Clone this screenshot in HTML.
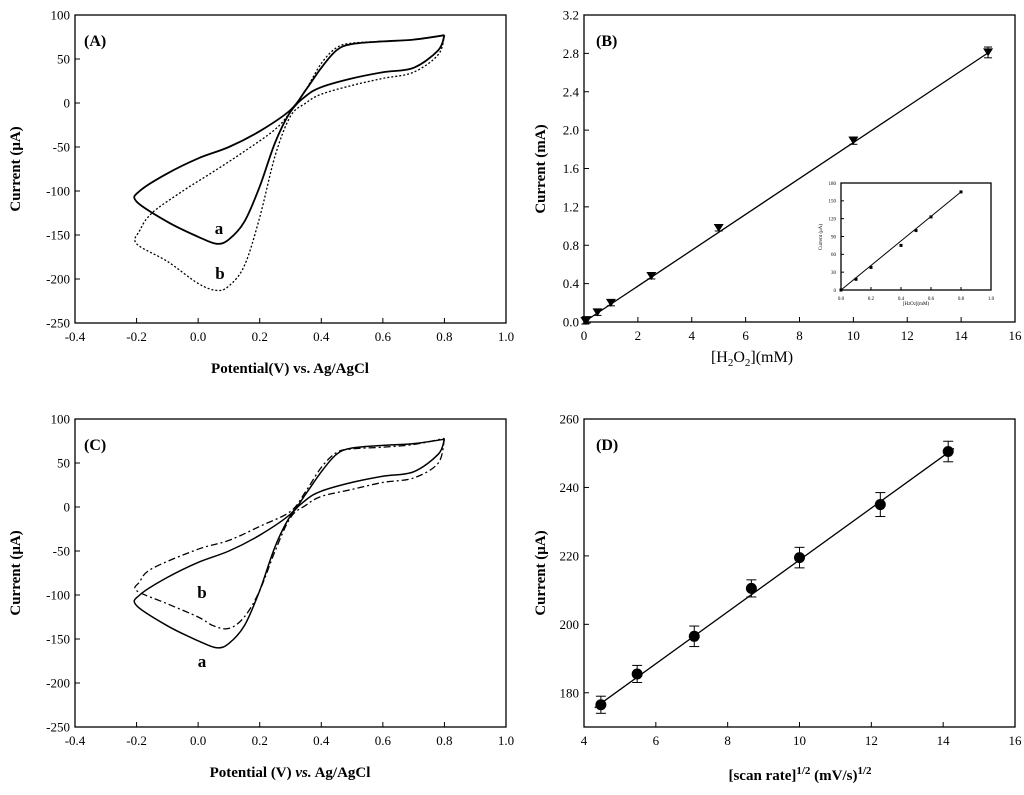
<!DOCTYPE html>
<html><head><meta charset="utf-8"><style>
body{margin:0;background:#fff}
svg{display:block;font-family:"Liberation Serif",serif}
</style></head><body>
<svg id="s" width="1024" height="795" xmlns="http://www.w3.org/2000/svg"></svg>
<script>
// ---- Data ----
const cvAa_E=[0.8,0.78,0.7,0.6,0.5,0.4,0.35,0.3,0.25,0.2,0.15,0.1,0.06,0.0,-0.1,-0.2,-0.19,-0.1,0.0,0.1,0.2,0.3,0.35,0.4,0.45,0.5,0.6,0.7,0.8];
const cvAa_I=[77,60,40,35,28,18,8,-10,-45,-95,-135,-155,-160,-152,-135,-112,-100,-80,-63,-50,-32,-8,15,40,60,67,70,72,77];
const cvAb_E=[0.8,0.78,0.7,0.6,0.5,0.4,0.35,0.3,0.25,0.2,0.15,0.1,0.06,0.0,-0.1,-0.2,-0.19,-0.15,-0.05,0.05,0.15,0.25,0.3,0.35,0.4,0.45,0.5,0.6,0.7,0.8];
const cvAb_I=[77,55,35,28,20,10,0,-15,-60,-130,-185,-208,-213,-205,-180,-160,-145,-125,-100,-78,-55,-30,-10,15,45,63,68,70,72,77];
const cvCb_E=[0.8,0.78,0.7,0.6,0.5,0.4,0.35,0.3,0.25,0.2,0.15,0.1,0.05,0.0,-0.1,-0.2,-0.19,-0.15,0.0,0.1,0.2,0.3,0.35,0.4,0.45,0.5,0.6,0.7,0.8];
const cvCb_I=[78,50,33,28,20,12,2,-12,-50,-95,-125,-138,-135,-125,-110,-95,-85,-70,-48,-38,-22,-5,18,45,62,66,68,71,78];
const bX=[0.05,0.1,0.5,1,2.5,5,10,15];
const bY=[0.01,0.02,0.1,0.2,0.48,0.98,1.89,2.81];
const insX=[0,0.1,0.2,0.4,0.5,0.6,0.8];
const insY=[0,18,38,75,100,123,165];
const dX=[4.47,5.48,7.07,8.66,10,12.25,14.14];
const dY=[176.5,185.5,196.5,210.5,219.5,235,250.5];
const dErr=[2.5,2.5,3,2.5,3,3.5,3];
const ticksCV=[-0.4,-0.2,0,0.2,0.4,0.6,0.8,1.0];
const ticksCVy=[100,50,0,-50,-100,-150,-200,-250];
const ticksBx=[0,2,4,6,8,10,12,14,16];
const ticksBy=[0,0.4,0.8,1.2,1.6,2.0,2.4,2.8,3.2];
const ticksDx=[4,6,8,10,12,14,16];
const ticksDy=[180,200,220,240,260];

const S=document.getElementById('s');const NS='http://www.w3.org/2000/svg';
function el(t,a,p){const e=document.createElementNS(NS,t);for(const k in a)e.setAttribute(k,a[k]);(p||S).appendChild(e);return e;}
function txt(x,y,s,o){o=o||{};const e=el('text',{x:x,y:y,'font-size':o.fs||13,'text-anchor':o.a||'middle','font-weight':o.b?'bold':'normal',fill:'#000'});if(o.r)e.setAttribute('transform','rotate(-90 '+x+' '+y+')');e.innerHTML=s;return e;}
function axes(x0,x1,y0,y1,xmin,xmax,ymin,ymax,name){
 const g=el('g',{});
 el('rect',{x:x0,y:y0,width:x1-x0,height:y1-y0,fill:'none',stroke:'#000','stroke-width':1.3},g);
 return {g:g,X:v=>x0+(v-xmin)/(xmax-xmin)*(x1-x0),Y:v=>y1-(v-ymin)/(ymax-ymin)*(y1-y0),x0,x1,y0,y1};
}
function ticks(ax,xt,yt,fmtx,fmty,fs,len){
 fs=fs||13;len=len||5;
 xt.forEach(v=>{const x=ax.X(v);el('line',{x1:x,x2:x,y1:ax.y1,y2:ax.y1-len,stroke:'#000'},ax.g);const t=txt(x,ax.y1+fs+5,fmtx(v),{fs:fs});});
 yt.forEach(v=>{const y=ax.Y(v);el('line',{x1:ax.x0,x2:ax.x0+len,y1:y,y2:y,stroke:'#000'},ax.g);const t=txt(ax.x0-5,y+fs*0.35,fmty(v),{fs:fs,a:'end'});});
}
function path(ax,xs,ys,attrs,name){
 const P=xs.map((v,i)=>[ax.X(v),ax.Y(ys[i])]);
 let d='M'+P[0][0].toFixed(1)+' '+P[0][1].toFixed(1);
 for(let i=0;i<P.length-1;i++){const p0=P[i-1]||P[i],p1=P[i],p2=P[i+1],p3=P[i+2]||P[i+1];
  const c1=[p1[0]+(p2[0]-p0[0])/6,p1[1]+(p2[1]-p0[1])/6],c2=[p2[0]-(p3[0]-p1[0])/6,p2[1]-(p3[1]-p1[1])/6];
  d+='C'+c1[0].toFixed(1)+' '+c1[1].toFixed(1)+' '+c2[0].toFixed(1)+' '+c2[1].toFixed(1)+' '+p2[0].toFixed(1)+' '+p2[1].toFixed(1);}
 const a=Object.assign({d:d,fill:'none',stroke:'#000','stroke-linejoin':'round'},attrs);const p=el('path',a,ax.g);return p;}
const f1=v=>v.toFixed(1), f0=v=>String(v);

// Panel A
let A=axes(75,506,15,323,-0.4,1.0,-250,100,'panel-a');
ticks(A,ticksCV,ticksCVy,f1,f0);
path(A,cvAa_E,cvAa_I,{'stroke-width':1.8},'curve-a');
path(A,cvAb_E,cvAb_I,{'stroke-width':1.3,'stroke-dasharray':'2 2'},'curve-b');
txt(84,46,'(A)',{fs:16,b:1,a:'start'});
txt(219,234,'a',{fs:17,b:1});txt(220,279,'b',{fs:17,b:1});
txt(20,169,'Current (μA)',{fs:15,b:1,r:1});
txt(290,373,'Potential(V) vs. Ag/AgCl',{fs:15,b:1});

// Panel B
let B=axes(584,1015,15,322,0,16,0,3.2,'panel-b');
ticks(B,ticksBx,ticksBy,f0,f1);
el('line',{x1:B.X(0),y1:B.Y(0),x2:B.X(15),y2:B.Y(15*0.187),stroke:'#000','stroke-width':1.3},B.g);
bX.forEach((v,i)=>{const x=B.X(v),y=B.Y(bY[i]),e=Math.max(3,bY[i]*0.02*96);
 el('line',{x1:x,x2:x,y1:y-e,y2:y+e,stroke:'#000'},B.g);el('line',{x1:x-4,x2:x+4,y1:y-e,y2:y-e,stroke:'#000'},B.g);el('line',{x1:x-4,x2:x+4,y1:y+e,y2:y+e,stroke:'#000'},B.g);
 const m=el('path',{d:`M${x-5} ${y-4}L${x+5} ${y-4}L${x} ${y+4}Z`,fill:'#000'},B.g);});
txt(596,46,'(B)',{fs:16,b:1,a:'start'});
txt(545,169,'Current (mA)',{fs:15,b:1,r:1});
txt(752,362,'[H<tspan font-size="11" dy="4">2</tspan><tspan dy="-4">O</tspan><tspan font-size="11" dy="4">2</tspan><tspan dy="-4">](mM)</tspan>',{fs:16,b:0});
// inset
let I=axes(841,991,183,290,0,1,0,180,'inset');
ticks(I,[0,0.2,0.4,0.6,0.8,1.0],[0,30,60,90,120,150,180],f1,f0,5,3);
el('line',{x1:I.X(0),y1:I.Y(0),x2:I.X(0.8),y2:I.Y(165),stroke:'#000'},I.g);
insX.forEach((v,i)=>{const m=el('rect',{x:I.X(v)-1.5,y:I.Y(insY[i])-1.5,width:3,height:3,fill:'#000'},I.g);});
txt(822,237,'Current (μA)',{fs:5,r:1});txt(916,305,'[H<tspan font-size="4">2</tspan>O<tspan font-size="4">2</tspan>](mM)',{fs:5});

// Panel C
let C=axes(75,506,419,727,-0.4,1.0,-250,100,'panel-c');
ticks(C,ticksCV,ticksCVy,f1,f0);
path(C,cvAa_E,cvAa_I,{'stroke-width':1.5},'curve-a');
path(C,cvCb_E,cvCb_I,{'stroke-width':1.3,'stroke-dasharray':'7 3 2 3'},'curve-b');
txt(84,450,'(C)',{fs:16,b:1,a:'start'});
txt(202,598,'b',{fs:17,b:1});txt(202,667,'a',{fs:17,b:1});
txt(20,573,'Current (μA)',{fs:15,b:1,r:1});
txt(290,777,'Potential (V) <tspan font-style="italic">vs.</tspan> Ag/AgCl',{fs:15,b:1});

// Panel D
let D=axes(584,1015,419,727,4,16,170,260,'panel-d');
ticks(D,ticksDx,ticksDy,f0,f0);
el('line',{x1:D.X(4.3),y1:D.Y(175.6),x2:D.X(14.3),y2:D.Y(251.4),stroke:'#000','stroke-width':1.3},D.g);
dX.forEach((v,i)=>{const x=D.X(v),y=D.Y(dY[i]),t=D.Y(dY[i]+dErr[i]),b=D.Y(dY[i]-dErr[i]);
 el('line',{x1:x,x2:x,y1:t,y2:b,stroke:'#000'},D.g);el('line',{x1:x-5,x2:x+5,y1:t,y2:t,stroke:'#000'},D.g);el('line',{x1:x-5,x2:x+5,y1:b,y2:b,stroke:'#000'},D.g);
 const m=el('circle',{cx:x,cy:y,r:5.5,fill:'#000'},D.g);});
txt(596,450,'(D)',{fs:16,b:1,a:'start'});
txt(545,573,'Current (μA)',{fs:15,b:1,r:1});
txt(800,780,'[scan rate]<tspan font-size="11" dy="-6">1/2</tspan><tspan dy="6"> (mV/s)</tspan><tspan font-size="11" dy="-6">1/2</tspan>',{fs:15,b:1});
</script>
</body></html>
